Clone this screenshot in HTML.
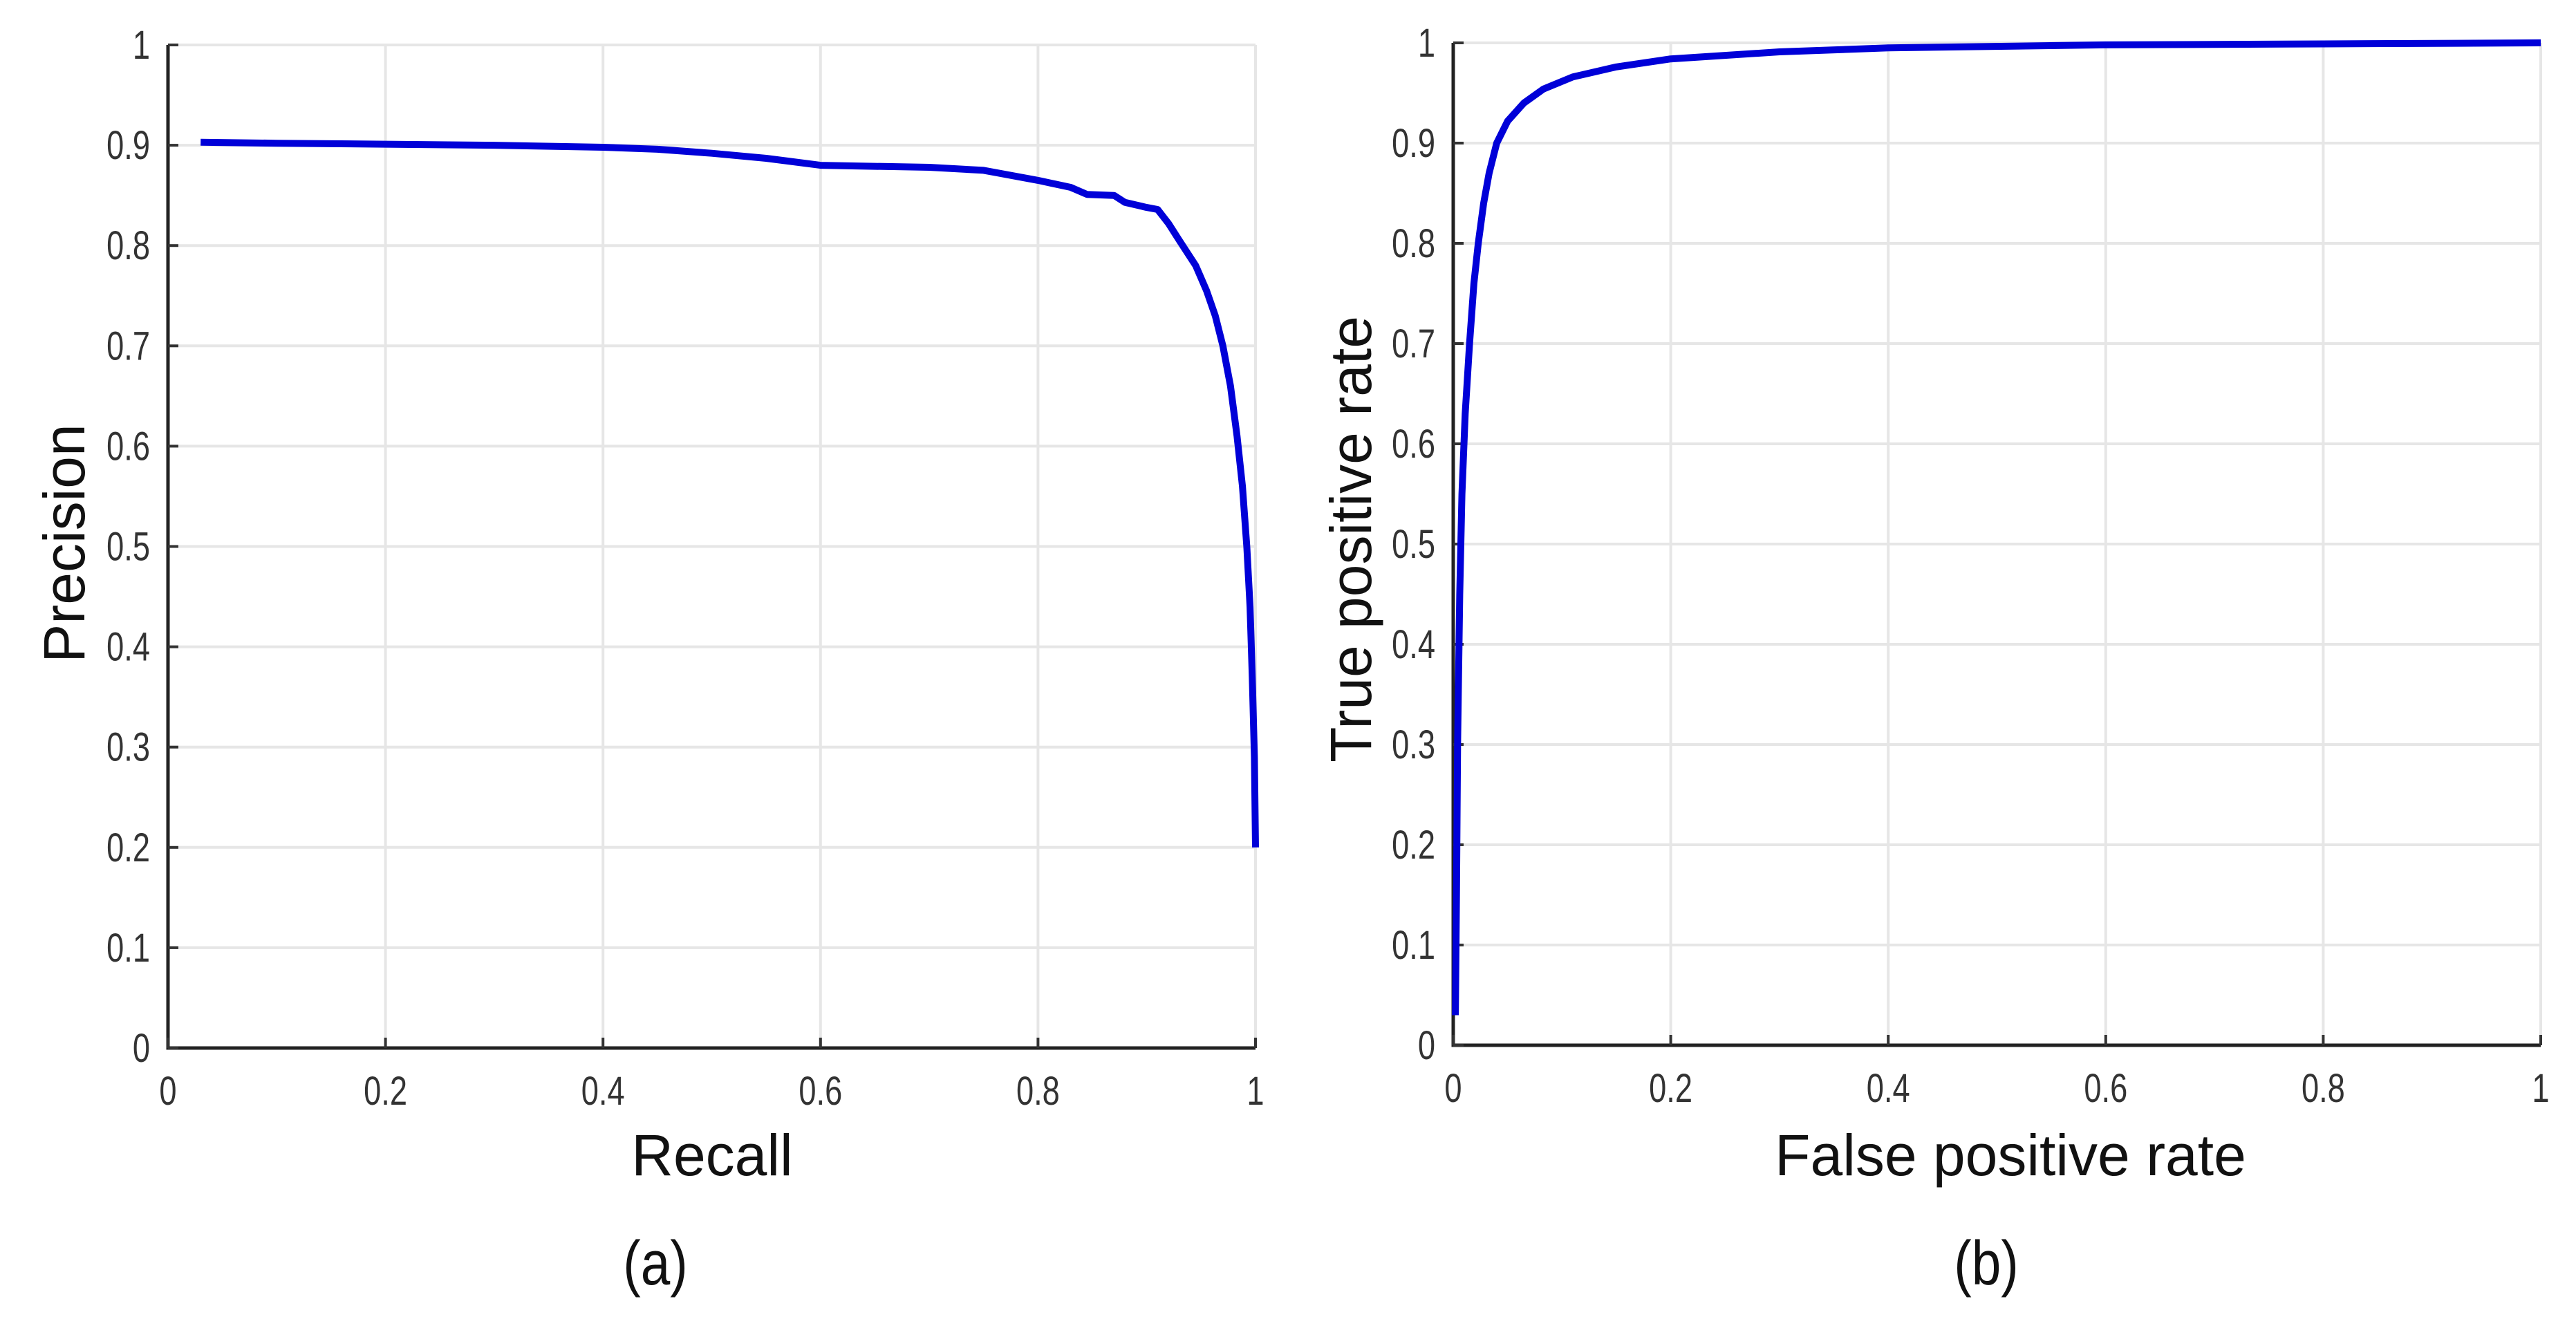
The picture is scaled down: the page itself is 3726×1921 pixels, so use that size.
<!DOCTYPE html>
<html><head><meta charset="utf-8"><style>
html,body{margin:0;padding:0;background:#fff;}
svg{display:block;}
text{font-family:"Liberation Sans",sans-serif;}
</style></head><body>
<svg id="fig" width="3726" height="1921" viewBox="0 0 3726 1921" xmlns="http://www.w3.org/2000/svg"></svg>
<script>
const ticks = [0,0.1,0.2,0.3,0.4,0.5,0.6,0.7,0.8,0.9,1];
const xTicks = [0,0.2,0.4,0.6,0.8,1];
const xTickLabels = ["0","0.2","0.4","0.6","0.8","1"];
const yTickLabels = ["0","0.1","0.2","0.3","0.4","0.5","0.6","0.7","0.8","0.9","1"];
const prRecall = [0.03,0.1,0.2,0.3,0.4,0.45,0.5,0.55,0.6,0.65,0.7,0.75,0.8,0.83,0.845,0.87,0.88,0.9,0.91,0.92,0.93,0.945,0.955,0.963,0.97,0.977,0.983,0.988,0.992,0.995,0.997,0.999,1.0];
const prPrecision = [0.903,0.902,0.901,0.900,0.898,0.896,0.892,0.887,0.880,0.879,0.878,0.875,0.865,0.858,0.851,0.850,0.843,0.838,0.836,0.822,0.805,0.78,0.755,0.73,0.70,0.66,0.61,0.56,0.50,0.44,0.37,0.29,0.20];
const rocFpr = [0.002,0.003,0.004,0.006,0.008,0.011,0.015,0.019,0.023,0.028,0.033,0.04,0.05,0.065,0.083,0.11,0.15,0.2,0.3,0.4,0.6,0.8,1.0];
const rocTpr = [0.03,0.15,0.3,0.45,0.55,0.63,0.7,0.76,0.8,0.84,0.87,0.9,0.922,0.94,0.954,0.966,0.976,0.984,0.991,0.995,0.998,0.999,1.0];

const NS="http://www.w3.org/2000/svg";
const svg=document.getElementById('fig');
function el(tag,attrs,parent){const e=document.createElementNS(NS,tag);for(const k in attrs)e.setAttribute(k,attrs[k]);(parent||svg).appendChild(e);return e;}

function panel(p){
  const g=el('g',{});
  
  
  const sx=v=>p.x0+v*(p.x1-p.x0), sy=v=>p.y0+v*(p.y1-p.y0);
  ticks.forEach(t=>{
    const l=el('line',{x1:p.x0,x2:p.x1,y1:sy(t),y2:sy(t),stroke:'#e6e6e6','stroke-width':4},g);
    
    
  });
  xTicks.forEach(t=>{
    const l=el('line',{x1:sx(t),x2:sx(t),y1:p.y0,y2:p.y1,stroke:'#e6e6e6','stroke-width':4},g);
    
    
  });
  const ax=el('path',{d:`M${p.x0},${p.y1} L${p.x0},${p.y0} L${p.x1},${p.y0}`,fill:'none',stroke:'#222','stroke-width':5},g);
  
  
  ticks.forEach((t,i)=>{
    el('line',{x1:p.x0,x2:p.x0+15,y1:sy(t),y2:sy(t),stroke:'#333','stroke-width':4},g);
    const tx=el('text',{x:p.x0-26,y:sy(t)+20,'text-anchor':'end','font-size':58,fill:'#333',transform:`translate(${p.x0-26},0) scale(0.78,1) translate(${-(p.x0-26)},0)`},g);
    tx.textContent=yTickLabels[i];
    
    
  });
  xTicks.forEach((t,i)=>{
    el('line',{x1:sx(t),x2:sx(t),y1:p.y0,y2:p.y0-15,stroke:'#333','stroke-width':4},g);
    const tx=el('text',{x:sx(t),y:p.y0+82,'text-anchor':'middle','font-size':58,fill:'#333',transform:`translate(${sx(t)},0) scale(0.78,1) translate(${-sx(t)},0)`},g);
    tx.textContent=xTickLabels[i];
    
    
  });
  const d=p.xs.map((v,i)=>(i?'L':'M')+sx(v).toFixed(1)+','+sy(p.ys[i]).toFixed(1)).join(' ');
  const ln=el('path',{d,fill:'none',stroke:'#0000d8','stroke-width':10,'stroke-linejoin':'round','stroke-linecap':'butt'},g);
  
  
  const xt=el('text',{x:p.xtx,y:1700,'text-anchor':'middle','font-size':84,fill:'#111'},g);
  xt.textContent=p.xtitle;
  
  
  const yt=el('text',{x:0,y:0,'text-anchor':'middle','font-size':84,fill:'#111',transform:`translate(${p.ytx},${p.yty}) rotate(-90)`},g);
  yt.textContent=p.ytitle;
  
  
  const cap=el('text',{x:p.capx,y:1858,'text-anchor':'middle','font-size':90,fill:'#111',transform:`translate(${p.capx},0) scale(0.85,1) translate(${-p.capx},0)`},g);
  cap.textContent=p.caption;
  
  
}
panel({name:'precision-recall-chart',series:'pr-curve',x0:243,x1:1816,y0:1516,y1:65,xs:prRecall,ys:prPrecision,
  xtitle:'Recall',xtx:1030,ytitle:'Precision',ytx:122,yty:786,caption:'(a)',capx:948});
panel({name:'roc-chart',series:'roc-curve',x0:2102,x1:3675,y0:1512,y1:62,xs:rocFpr,ys:rocTpr,
  xtitle:'False positive rate',xtx:2908,ytitle:'True positive rate',ytx:1983,yty:780,caption:'(b)',capx:2873});
</script>
</body></html>
